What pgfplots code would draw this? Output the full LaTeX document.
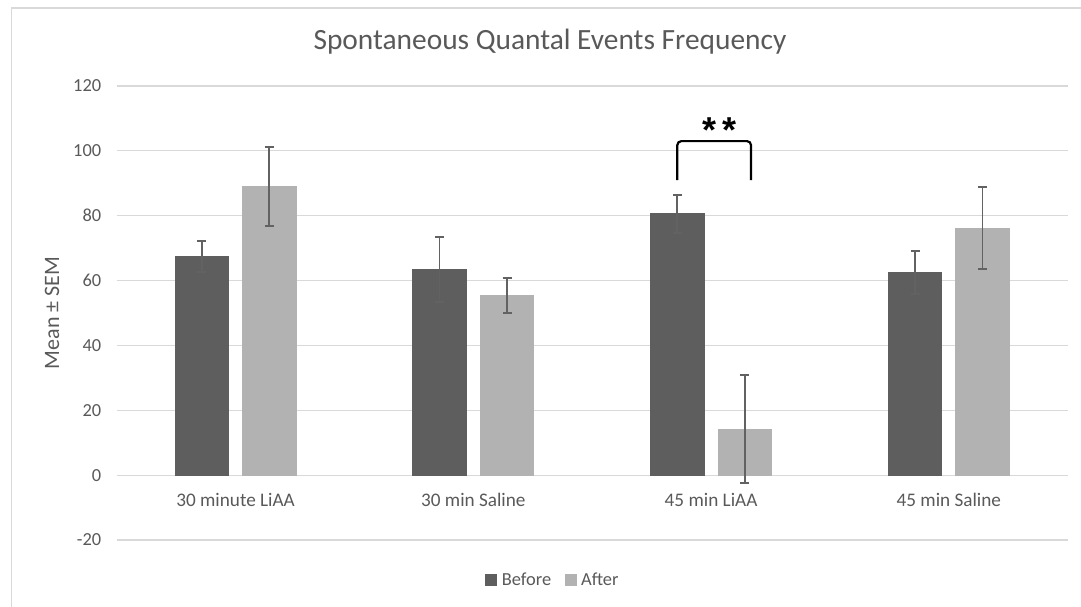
\documentclass[border=0pt]{standalone}
\usepackage{fontspec}
\setmainfont{Carlito}
\newfontfamily\starfont{Liberation Sans}
\usepackage{pgfplots}
\pgfplotsset{compat=1.18}

\definecolor{beforegray}{RGB}{94,94,94}
\definecolor{aftergray}{RGB}{178,178,178}
\definecolor{errgray}{RGB}{98,98,98}
\definecolor{textgray}{RGB}{89,89,89}
\definecolor{gridgray}{RGB}{217,217,217}

% columns: category index, mean, SEM
\pgfplotstableread{
x  y     e
0  67.4  4.8
1  63.4  10.1
2  80.6  5.9
3  62.4  6.6
}\before
\pgfplotstableread{
x  y     e
0  89.0  12.2
1  55.4  5.5
2  14.2  16.6
3  76.2  12.6
}\after

\pgfplotsset{
  sem bars/.style={
    error bars/.cd, y dir=both, y explicit, error mark=|,
    error bar style={draw=errgray, line width=1.8pt},
    error mark options={draw=errgray, line width=1.8pt, mark size=4.5pt}},
  square legend/.style={
    legend image code/.code={\fill[#1] (0pt,-5.5pt) rectangle (11pt,5.5pt); \path (14pt,0pt);}},
}

\begin{document}
\begin{tikzpicture}[x=1pt,y=1pt]
\path[use as bounding box] (0,0) rectangle (1081,606);
% chart frame
\draw[gridgray, line width=1.2pt] (11.5,-10) -- (11.5,598) -- (1100,598);
% title
\node[anchor=base, text=textgray, font=\fontsize{29.4}{32}\selectfont]
  at (550,556) {Spontaneous Quantal Events Frequency};

\begin{axis}[
  at={(116.7pt,66pt)}, anchor=south west,
  scale only axis, width=951pt, height=454pt,
  xmin=-0.5, xmax=3.5, ymin=-20, ymax=120,
  xtick={0,1,2,3},
  xticklabels={30 minute LiAA, 30 min Saline, 45 min LiAA, 45 min Saline},
  ytick={-20,0,20,40,60,80,100,120},
  axis x line*=middle,
  axis line style={draw=none},
  major tick length=0pt,
  ymajorgrids, grid style={gridgray, line width=1.2pt},
  ybar=14pt, bar width=53.5pt,
  /pgf/number format/assume math mode=true,
  tick label style={text=textgray, font=\fontsize{18.4}{20}\selectfont},
  xticklabel style={anchor=base, yshift=-31.7pt, font=\fontsize{19.2}{21}\selectfont},
  yticklabel style={xshift=-12pt},
  ylabel={Mean ± SEM},
  ylabel style={at={(axis description cs:-0.068,0.5)}, anchor=center,
    text=textgray, font=\fontsize{22}{24}\selectfont},
  legend style={at={(0.459,-0.088)}, anchor=center, draw=none, fill=none,
    legend columns=2, text=textgray, font=\fontsize{18.4}{20}\selectfont,
    /tikz/every even column/.append style={column sep=12pt}},
  clip=false,
]
\addplot[fill=beforegray, draw=beforegray, line width=0pt,
  square legend=beforegray, sem bars]
  table[x=x, y=y, y error=e] {\before};
\addplot[fill=aftergray, draw=aftergray, line width=0pt,
  square legend=aftergray, sem bars]
  table[x=x, y=y, y error=e] {\after};
\legend{Before, After}

% significance bracket for 45 min LiAA
\draw[black, line width=2.2pt, rounded corners=4pt]
  (axis cs:1.858,91) -- (axis cs:1.858,103) -- (axis cs:2.168,103) -- (axis cs:2.168,91);
\node[font=\starfont\bfseries\fontsize{36}{38}\selectfont, anchor=base, inner sep=0pt]
  at (axis cs:2.035,102.5) {*\kern6pt*};
\end{axis}
\end{tikzpicture}
\end{document}
